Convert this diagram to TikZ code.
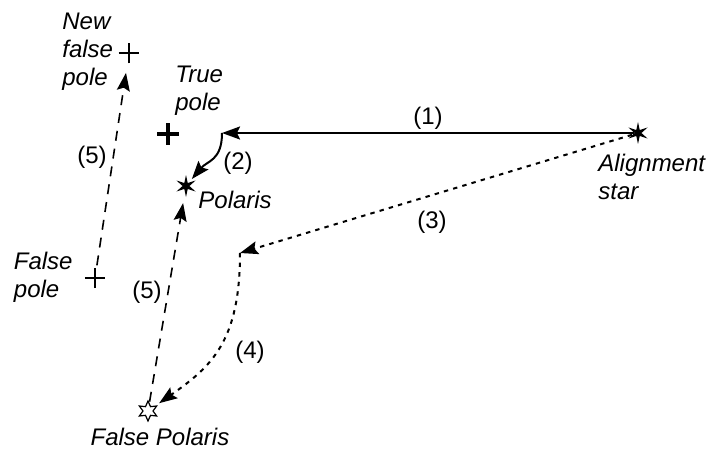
\documentclass[tikz,border=0pt]{standalone}
\usepackage{fontspec}
\setmainfont{Liberation Sans}
\usetikzlibrary{arrows.meta,shapes.geometric,shapes.misc}

\begin{document}
\begin{tikzpicture}[x=0.5pt, y=0.5pt,
    font=\fontsize{12}{14}\selectfont,
    lbl/.style={font=\fontsize{12}{14}\selectfont\itshape, align=left, inner sep=0pt},
    num/.style={inner sep=0pt},
    tip/.style={-{Stealth[length=9pt, width=6.5pt, inset=1.5pt]}},
    etoile/.style={star, star points=6, star point ratio=3.2, fill=black, minimum size=11pt, inner sep=0pt},
    croix/.style={cross out, draw, rotate=45, inner sep=0pt},
    tirets/.style={dash pattern=on 5pt off 4pt, line width=0.8pt},
    pointilles/.style={dash pattern=on 2.2pt off 2.6pt, line width=1pt}]
  \useasboundingbox (0,0) rectangle (708,451);

  % Pôles
  \node[croix, minimum size=6.5pt, line width=0.8pt] (nfp) at (129,398) {};
  \node[croix, minimum size=5.5pt, line width=2.2pt] (tp) at (168,317) {};
  \node[croix, minimum size=6pt, line width=1.1pt] (fp) at (95,173) {};

  % Etoiles
  \node[etoile] (align) at (638,318) {};
  \node[etoile] (polaris) at (186,265) {};
  \node[etoile, fill=white, draw, line width=0.6pt, star point ratio=2, minimum size=10pt] (fpolaris) at (148,40) {};

  % Points de passage
  \coordinate (aim) at (222,318);
  \coordinate (turn) at (240,198);

  % Textes
  \node[lbl, anchor=west] (nfplbl) at (62,399) {New\\false\\pole};
  \node[lbl, anchor=west] (tplbl) at (175,360.5) {True\\pole};
  \node[lbl, anchor=west] (alignlbl) at (598,274.5) {Alignment\\star};
  \node[lbl, anchor=east] (fplbl) at (73,173.5) {False\\pole};
  \node[lbl, anchor=west] (polarislbl) at (198,251) {Polaris};
  \node[lbl] (fpolarislbl) at (160,14) {False Polaris};

  % Trajets
  \draw[tip, line width=1pt] (align) -- (aim);
  \draw[tip, line width=1pt, shorten >=2pt] (aim) to[out=-90, in=50, looseness=1.2] (polaris);
  \draw[tip, pointilles] (align) -- (turn);
  \draw[tip, pointilles, shorten >=2pt] (turn) to[out=-90, in=35, out looseness=1.3] (fpolaris);
  \draw[tip, tirets, shorten <=0.5pt, shorten >=5pt] (fpolaris) -- (polaris);
  \draw[tip, tirets, shorten <=2pt, shorten >=5.5pt] (fp) -- (nfp);

  % Numéros des étapes
  \node[num] (n1) at (428,333) {(1)};
  \node[num] (n2) at (238,288) {(2)};
  \node[num] (n3) at (432,229) {(3)};
  \node[num] (n4) at (250,99) {(4)};
  \node[num] (n5a) at (147,159) {(5)};
  \node[num] (n5b) at (92,294) {(5)};
\end{tikzpicture}
\end{document}
